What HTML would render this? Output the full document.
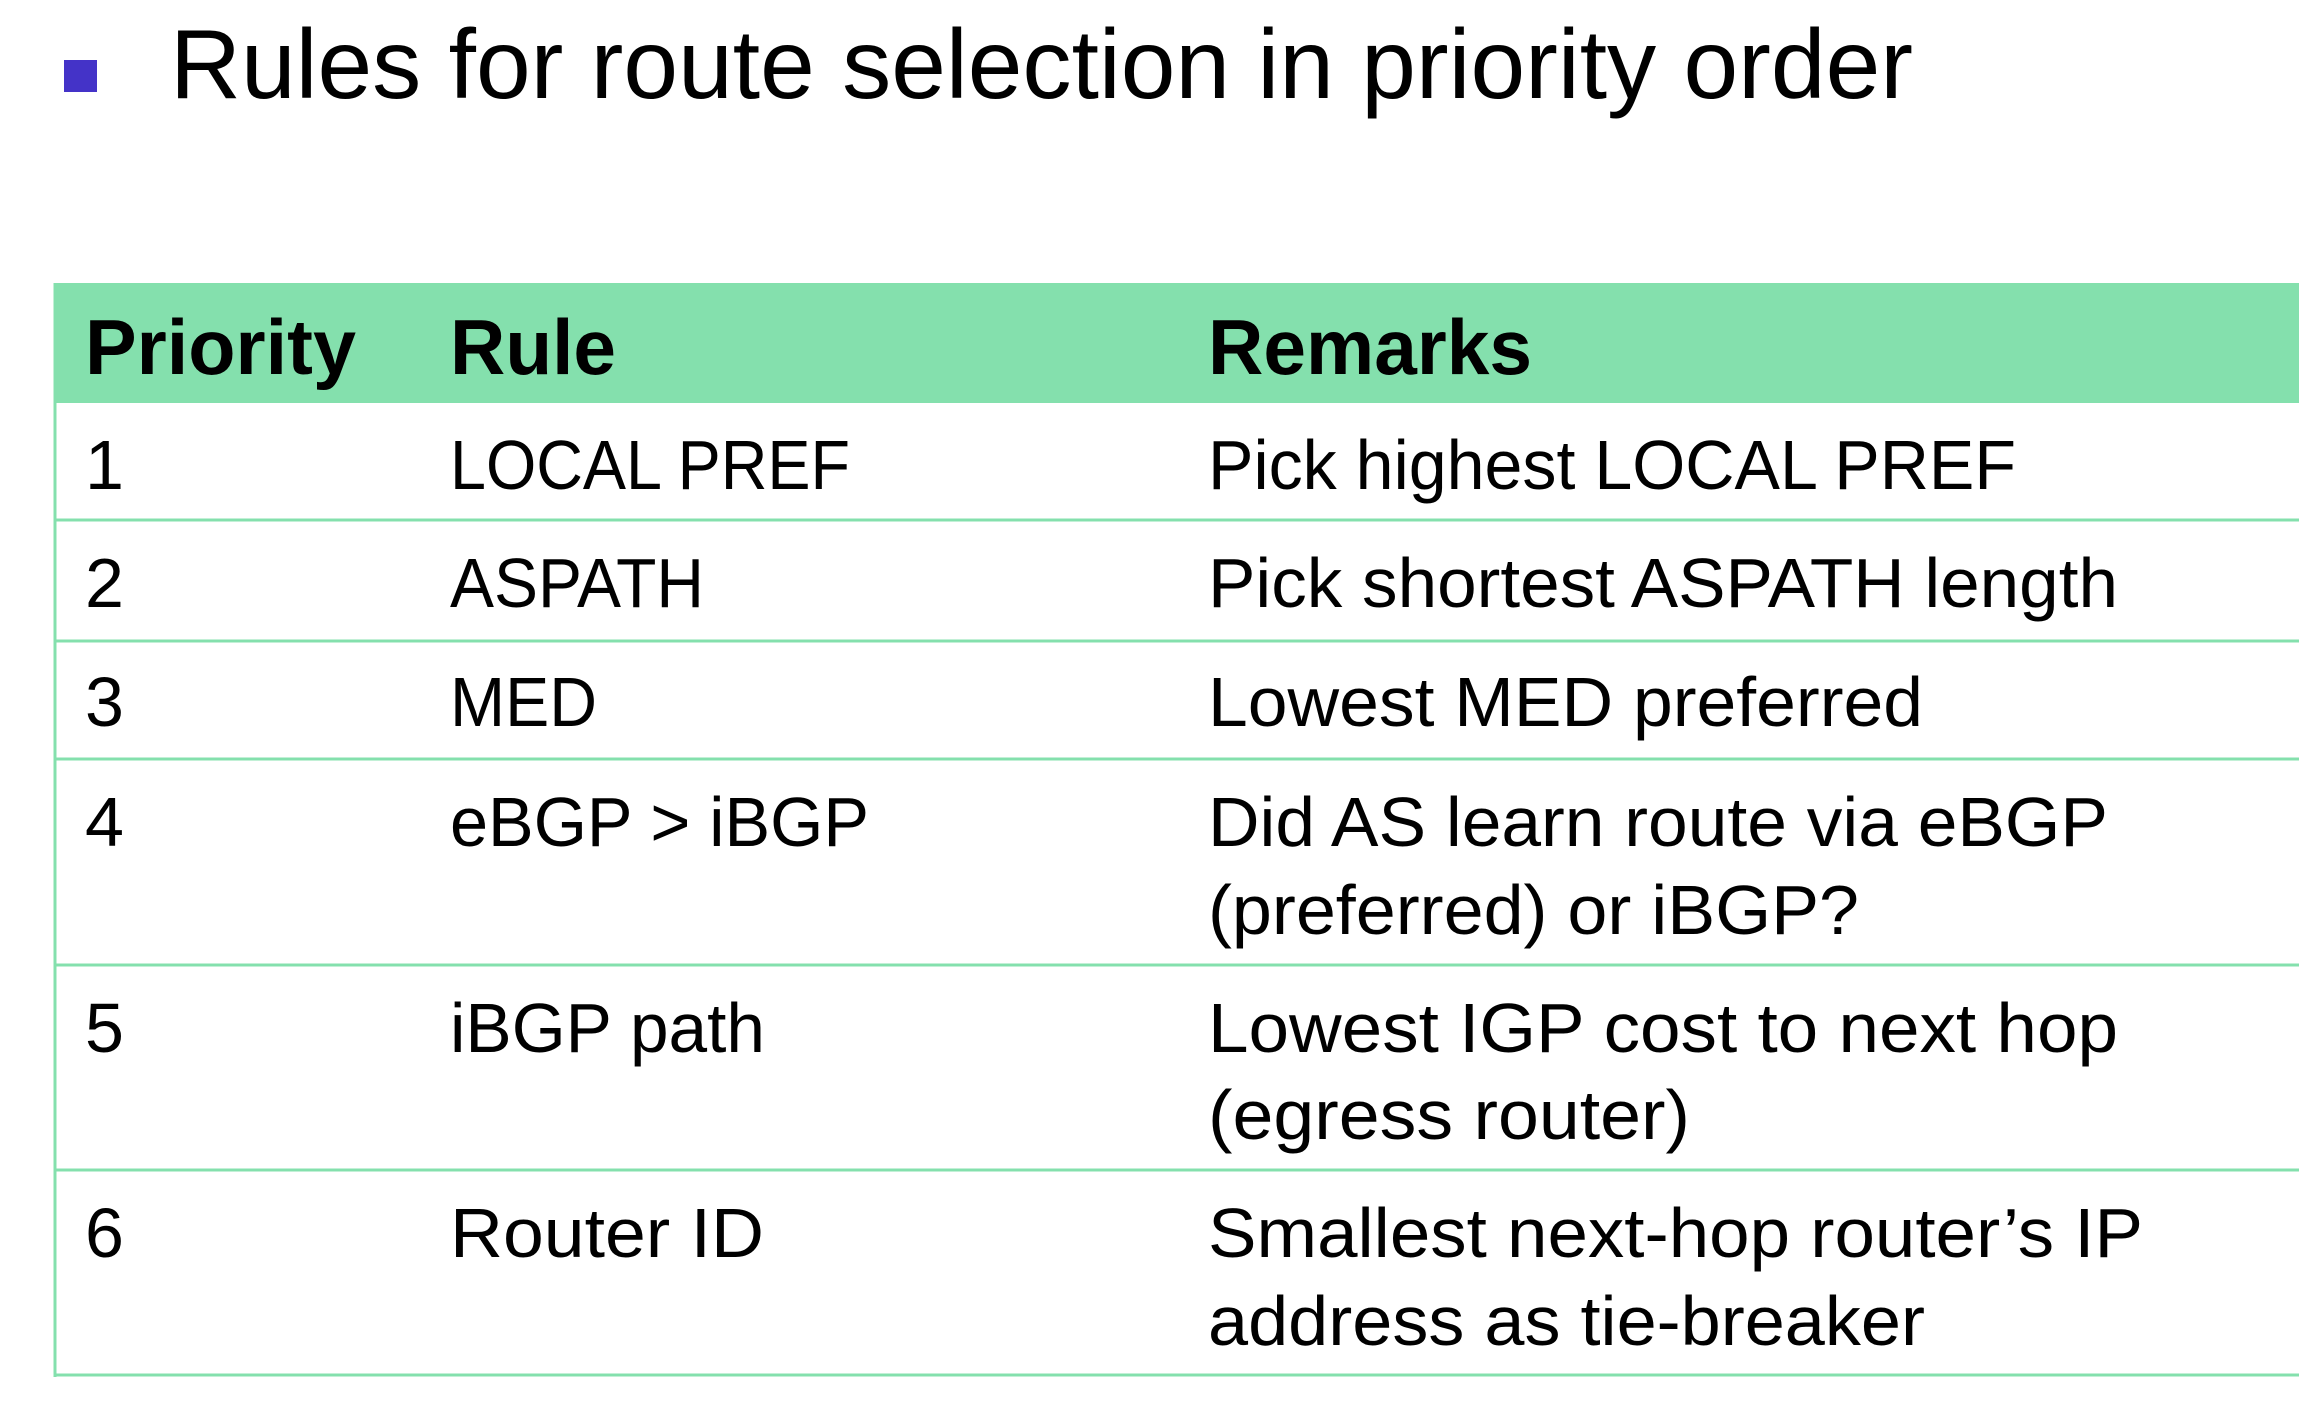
<!DOCTYPE html>
<html><head><meta charset="utf-8"><style>
html,body{margin:0;padding:0;background:#fff;}
svg{display:block;}
text{font-family:"Liberation Sans",sans-serif;fill:#000;}
.h{font-weight:bold;font-size:78px;}
.c{font-size:70px;}
</style></head><body>
<svg width="2299" height="1421" viewBox="0 0 2299 1421" xmlns="http://www.w3.org/2000/svg">
<rect x="64" y="60" width="33" height="32" fill="#4433c8"/>
<text x="170" y="98" font-size="98" textLength="1743" lengthAdjust="spacingAndGlyphs">Rules for route selection in priority order</text>
<rect x="54" y="283" width="2245" height="120" fill="#84e0ad"/>
<g stroke="#84e0ad" stroke-width="3">
<line x1="55" y1="283" x2="55" y2="1377"/>
<line x1="54" y1="520" x2="2299" y2="520"/>
<line x1="54" y1="641" x2="2299" y2="641"/>
<line x1="54" y1="759" x2="2299" y2="759"/>
<line x1="54" y1="965" x2="2299" y2="965"/>
<line x1="54" y1="1170" x2="2299" y2="1170"/>
<line x1="54" y1="1375" x2="2299" y2="1375"/>
</g>
<g transform="translate(0,-4)">
<text class="h" x="85" y="378" textLength="271" lengthAdjust="spacingAndGlyphs">Priority</text>
<text class="h" x="450" y="378" textLength="166" lengthAdjust="spacingAndGlyphs">Rule</text>
<text class="h" x="1208" y="378" textLength="324" lengthAdjust="spacingAndGlyphs">Remarks</text>

<text class="c" x="85" y="493">1</text>
<text class="c" x="450" y="493" textLength="400" lengthAdjust="spacingAndGlyphs">LOCAL PREF</text>
<text class="c" x="1208" y="493" textLength="808" lengthAdjust="spacingAndGlyphs">Pick highest LOCAL PREF</text>

<text class="c" x="85" y="611">2</text>
<text class="c" x="450" y="611" textLength="254" lengthAdjust="spacingAndGlyphs">ASPATH</text>
<text class="c" x="1208" y="611" textLength="910" lengthAdjust="spacingAndGlyphs">Pick shortest ASPATH length</text>

<text class="c" x="85" y="730">3</text>
<text class="c" x="450" y="730" textLength="147" lengthAdjust="spacingAndGlyphs">MED</text>
<text class="c" x="1208" y="730" textLength="715" lengthAdjust="spacingAndGlyphs">Lowest MED preferred</text>

<text class="c" x="85" y="850">4</text>
<text class="c" x="450" y="850" textLength="419" lengthAdjust="spacingAndGlyphs">eBGP &gt; iBGP</text>
<text class="c" x="1208" y="850" textLength="900" lengthAdjust="spacingAndGlyphs">Did AS learn route via eBGP</text>
<text class="c" x="1208" y="938" textLength="651" lengthAdjust="spacingAndGlyphs">(preferred) or iBGP?</text>

<text class="c" x="85" y="1056">5</text>
<text class="c" x="450" y="1056" textLength="315" lengthAdjust="spacingAndGlyphs">iBGP path</text>
<text class="c" x="1208" y="1056" textLength="910" lengthAdjust="spacingAndGlyphs">Lowest IGP cost to next hop</text>
<text class="c" x="1208" y="1143" textLength="482" lengthAdjust="spacingAndGlyphs">(egress router)</text>

<text class="c" x="85" y="1261">6</text>
<text class="c" x="450" y="1261" textLength="314" lengthAdjust="spacingAndGlyphs">Router ID</text>
<text class="c" x="1208" y="1261" textLength="935" lengthAdjust="spacingAndGlyphs">Smallest next-hop router’s IP</text>
<text class="c" x="1208" y="1349" textLength="717" lengthAdjust="spacingAndGlyphs">address as tie-breaker</text>
</g>
</svg>
</body></html>
